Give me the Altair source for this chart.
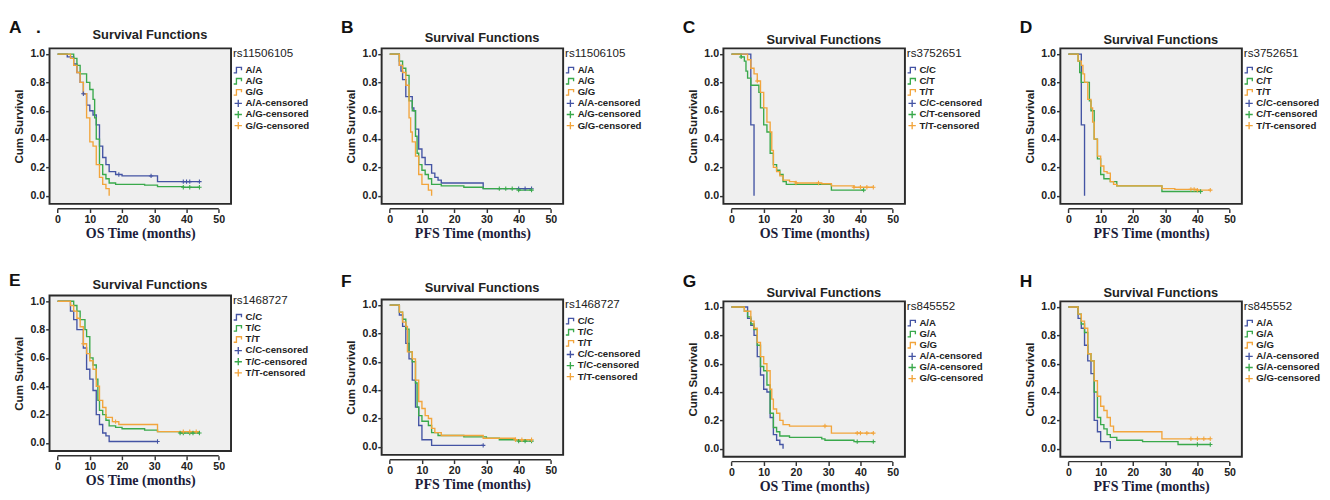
import altair as alt
import pandas as pd

# ---------------- data ----------------
# Panel A: OS, rs11506105
A_AA_T = [0, 3, 5, 6, 7, 8, 9, 10, 11, 12, 13, 14, 15, 16, 18, 20, 31, 44]
A_AA_S = [1.0, 0.98, 0.93, 0.87, 0.80, 0.72, 0.64, 0.60, 0.57, 0.50, 0.35, 0.27, 0.22, 0.17, 0.15, 0.14, 0.10, 0.10]
A_AA_C = [8, 19, 29, 39, 40, 41, 44]
A_AG_T = [0, 5, 6, 7, 9, 10, 11, 11.5, 12, 13, 14, 15, 16, 18, 27, 31, 39, 44]
A_AG_S = [1.0, 0.97, 0.92, 0.86, 0.80, 0.75, 0.68, 0.55, 0.40, 0.22, 0.15, 0.12, 0.09, 0.08, 0.075, 0.065, 0.06, 0.06]
A_AG_C = [39, 41, 44]
A_GG_T = [0, 4, 5, 6, 7, 8, 9, 10, 11, 12, 13, 14, 15, 16]
A_GG_S = [1.0, 0.97, 0.92, 0.87, 0.80, 0.72, 0.55, 0.38, 0.35, 0.22, 0.13, 0.08, 0.05, 0.0]
A_GG_C = []

# Panel B: PFS, rs11506105
B_AA_T = [0, 3, 3.5, 4, 5, 7, 7.5, 8, 9, 10, 11, 13, 14, 15, 16, 29, 44]
B_AA_S = [1.0, 0.92, 0.88, 0.82, 0.70, 0.62, 0.60, 0.47, 0.33, 0.27, 0.22, 0.16, 0.13, 0.11, 0.09, 0.05, 0.05]
B_AA_C = [40, 42, 44]
B_AG_T = [0, 3, 4, 5, 6, 7, 8, 8.5, 9, 10, 11, 12, 13, 16, 23, 29, 40, 44]
B_AG_S = [1.0, 0.95, 0.90, 0.85, 0.67, 0.60, 0.42, 0.30, 0.22, 0.18, 0.15, 0.12, 0.08, 0.07, 0.06, 0.05, 0.04, 0.04]
B_AG_C = [34, 36, 38, 40, 44]
B_GG_T = [0, 3, 4, 5, 6, 6.5, 7, 8, 9, 10, 12, 13]
B_GG_S = [1.0, 0.92, 0.87, 0.78, 0.55, 0.45, 0.38, 0.28, 0.15, 0.08, 0.04, 0.0]
B_GG_C = []

# Panel C: OS, rs3752651
C_CC_T = [0, 6, 7]
C_CC_S = [1.0, 0.5, 0.0]
C_CC_C = []
C_CT_T = [0, 3, 4, 4.5, 5, 6, 8.5, 9, 10, 11, 12, 13, 14, 15, 16, 17, 31, 41]
C_CT_S = [1.0, 0.98, 0.95, 0.88, 0.83, 0.78, 0.73, 0.62, 0.50, 0.45, 0.30, 0.22, 0.18, 0.15, 0.10, 0.08, 0.04, 0.04]
C_CT_C = [3, 41]
C_TT_T = [0, 5, 6, 7, 8, 9, 10, 11, 12, 12.5, 13, 14, 15, 16, 18, 20, 28, 31, 38, 44]
C_TT_S = [1.0, 0.96, 0.90, 0.86, 0.81, 0.73, 0.62, 0.52, 0.45, 0.32, 0.20, 0.17, 0.14, 0.11, 0.10, 0.09, 0.085, 0.07, 0.06, 0.06]
C_TT_C = [8, 20, 27, 38, 40, 42, 44]

# Panel D: PFS, rs3752651
D_CC_T = [0, 4, 5]
D_CC_S = [1.0, 0.5, 0.0]
D_CC_C = []
D_CT_T = [0, 3, 3.5, 4, 6.5, 7, 8, 9, 10, 11, 13, 15, 29, 41]
D_CT_S = [1.0, 0.95, 0.87, 0.80, 0.67, 0.60, 0.40, 0.26, 0.15, 0.12, 0.10, 0.07, 0.03, 0.03]
D_CT_C = [41]
D_TT_T = [0, 3, 4, 4.5, 5, 6, 7, 7.5, 8, 9, 10, 11, 12, 13, 14, 15, 29, 33, 40, 44]
D_TT_S = [1.0, 0.95, 0.92, 0.86, 0.80, 0.68, 0.62, 0.52, 0.40, 0.28, 0.21, 0.17, 0.16, 0.10, 0.08, 0.07, 0.05, 0.045, 0.04, 0.04]
D_TT_C = [38, 39, 40, 44]

# Panel E: OS, rs1468727
E_CC_T = [0, 4, 5, 6, 8, 9, 10, 11, 12, 13, 14, 15, 16, 31]
E_CC_S = [1.0, 0.93, 0.87, 0.80, 0.67, 0.52, 0.45, 0.37, 0.20, 0.13, 0.07, 0.05, 0.01, 0.01]
E_CC_C = [31]
E_TC_T = [0, 5, 6, 7, 8.5, 9, 10, 11, 12, 12.5, 13, 14, 15, 16, 18, 20, 27, 31, 38, 44]
E_TC_S = [1.0, 0.97, 0.93, 0.87, 0.80, 0.75, 0.60, 0.55, 0.45, 0.30, 0.23, 0.20, 0.16, 0.12, 0.11, 0.10, 0.09, 0.08, 0.07, 0.07]
E_TC_C = [38, 39, 41, 42, 44]
E_TT_T = [0, 4, 5, 6, 7, 8, 9, 10, 11, 12, 13, 14, 15, 17, 19, 31, 44]
E_TT_S = [1.0, 0.97, 0.93, 0.88, 0.82, 0.70, 0.63, 0.58, 0.52, 0.40, 0.30, 0.25, 0.18, 0.15, 0.13, 0.08, 0.08]
E_TT_C = [8, 18, 39, 41, 43]

# Panel F: PFS, rs1468727
F_CC_T = [0, 3, 4, 5, 6, 7, 8, 9, 10, 13, 29]
F_CC_S = [1.0, 0.93, 0.85, 0.73, 0.62, 0.47, 0.28, 0.15, 0.05, 0.01, 0.01]
F_CC_C = [29]
F_TC_T = [0, 3, 4, 5, 6, 7, 8, 8.5, 9, 10, 12, 13, 15, 23, 30, 34, 40, 44]
F_TC_S = [1.0, 0.95, 0.90, 0.83, 0.67, 0.60, 0.45, 0.28, 0.22, 0.18, 0.15, 0.10, 0.08, 0.07, 0.06, 0.05, 0.04, 0.04]
F_TC_C = [40, 42, 44]
F_TT_T = [0, 3, 4, 5, 5.5, 7, 8, 9, 10, 11, 12, 13, 14, 16, 29, 39, 44]
F_TT_S = [1.0, 0.95, 0.88, 0.85, 0.67, 0.62, 0.47, 0.32, 0.27, 0.22, 0.20, 0.13, 0.10, 0.08, 0.06, 0.05, 0.05]
F_TT_C = [39, 41, 44]

# Panel G: OS, rs845552
G_AA_T = [0, 5, 6, 7, 8, 9, 10, 11, 12, 13, 14, 15, 16]
G_AA_S = [1.0, 0.92, 0.87, 0.80, 0.65, 0.52, 0.42, 0.40, 0.22, 0.10, 0.06, 0.03, 0.0]
G_AA_C = []
G_GA_T = [0, 4, 5, 6, 7, 8, 9, 10, 11, 12, 13, 14, 15, 18, 28, 29, 38, 44]
G_GA_S = [1.0, 0.97, 0.93, 0.88, 0.84, 0.73, 0.58, 0.55, 0.45, 0.25, 0.15, 0.12, 0.09, 0.08, 0.07, 0.06, 0.05, 0.05]
G_GA_C = [39, 44]
G_GG_T = [0, 4, 6, 7, 8, 9, 10, 11, 12, 12.5, 13, 14, 15, 16, 18, 31, 44]
G_GG_S = [1.0, 0.97, 0.90, 0.85, 0.75, 0.65, 0.60, 0.55, 0.42, 0.35, 0.28, 0.25, 0.20, 0.17, 0.16, 0.11, 0.11]
G_GG_C = [29, 39, 40, 42, 44]

# Panel H: PFS, rs845552
H_AA_T = [0, 3, 4, 5, 6, 7, 8, 9, 10, 12, 13]
H_AA_S = [1.0, 0.92, 0.85, 0.73, 0.62, 0.53, 0.20, 0.12, 0.05, 0.05, 0.0]
H_AA_C = []
H_GA_T = [0, 3, 4, 5, 6, 7, 8, 9, 10, 11, 12, 13, 15, 23, 34, 44]
H_GA_S = [1.0, 0.95, 0.88, 0.82, 0.67, 0.62, 0.40, 0.22, 0.17, 0.14, 0.10, 0.08, 0.06, 0.05, 0.03, 0.03]
H_GA_C = [40, 44]
H_GG_T = [0, 3, 4, 5, 6, 7, 8, 9, 10, 11, 12, 13, 14, 29, 44]
H_GG_S = [1.0, 0.95, 0.90, 0.85, 0.67, 0.62, 0.48, 0.37, 0.30, 0.27, 0.22, 0.16, 0.12, 0.07, 0.07]
H_GG_C = [38, 40, 42, 44]

X_TICKS = [0, 10, 20, 30, 40, 50]
Y_TICKS = [0.0, 0.2, 0.4, 0.6, 0.8, 1.0]

# ---------------- styling ----------------
COLORS = ["#4454a4", "#39a94b", "#f2a53c"]
STEP = "M-1,0.6H-0.4V-0.6H0.7V0"
CROSS = "M-0.8,0H0.8M0,-0.8V0.8"
W, H = 188, 161
SANS = "Liberation Sans"
SERIF = "Liberation Serif"


def surv_at(T, S, t):
    val = S[0]
    for ti, si in zip(T, S):
        if ti <= t:
            val = si
    return val


def panel(letter, snp, labels, series, xtitle, letter_y, title_y, top):
    rows, crow = [], []
    for lab, (T, S, C) in zip(labels, series):
        for t, s in zip(T, S):
            rows.append({"t": t, "s": s, "g": lab})
        for c in C:
            crow.append({"t": c, "s": surv_at(T, S, c), "k": lab + "-censored"})
    keys = labels + [l + "-censored" for l in labels]
    xs = alt.Scale(domain=[-2.5, 53.8], nice=False, zero=False)
    ys = alt.Scale(domain=[-0.057, 1.04], nice=False, zero=False)
    xaxis = alt.Axis(values=X_TICKS, format="d", offset=5, domain=False, grid=False,
                     tickSize=4, tickWidth=1.5, tickColor="#333", labelOverlap=False,
                     labelFont=SANS, labelFontWeight="bold", labelFontSize=11, labelColor="#222",
                     labelPadding=1,
                     title=xtitle, titleFont=SERIF, titleFontSize=14.5, titleFontWeight="bold",
                     titleColor="#1c1c3a", titlePadding=3)
    yaxis = alt.Axis(values=Y_TICKS, format=".1f", domain=False, grid=False,
                     tickSize=4, tickWidth=1.5, tickColor="#333", labelOverlap=False,
                     labelFont=SANS, labelFontWeight="bold", labelFontSize=11, labelColor="#222",
                     labelPadding=1,
                     title="Cum Survival", titleFont=SANS, titleFontSize=12, titleFontWeight="bold",
                     titleColor="#222", titlePadding=5)
    lines = alt.Chart(pd.DataFrame(rows)).mark_line(
        interpolate="step-after", strokeWidth=1.4
    ).encode(
        x=alt.X("t:Q", scale=xs, axis=xaxis),
        y=alt.Y("s:Q", scale=ys, axis=yaxis),
        color=alt.Color("g:N", scale=alt.Scale(domain=labels, range=COLORS), legend=None),
        detail="g:N",
    )
    leg = alt.Legend(title=snp, orient="right", offset=2, padding=0,
                     titleFont=SANS, titleFontSize=12, titleFontWeight="normal", titleColor="#222",
                     titlePadding=5,
                     labelFont=SANS, labelFontSize=10, labelFontWeight="bold", labelColor="#222",
                     labelOffset=2, symbolSize=90, symbolStrokeWidth=1.4, rowPadding=0.5,
                     clipHeight=11)
    cens = alt.Chart(pd.DataFrame(crow, columns=["t", "s", "k"])).mark_point(
        filled=False, strokeWidth=1.1, size=32, opacity=1
    ).encode(
        x=alt.X("t:Q", scale=xs, axis=xaxis),
        y=alt.Y("s:Q", scale=ys, axis=yaxis),
        color=alt.Color("k:N", scale=alt.Scale(domain=keys, range=COLORS + COLORS), legend=leg),
        shape=alt.Shape("k:N", scale=alt.Scale(domain=keys, range=[STEP] * 3 + [CROSS] * 3), legend=leg),
    )
    one = pd.DataFrame({"a": [0]})
    xline = alt.Chart(one).mark_rule(strokeWidth=1.5, color="#333").encode(
        x=alt.X(datum=0, type="quantitative", scale=xs, axis=xaxis),
        x2=alt.X2(datum=50),
        y=alt.value(H + 5),
    )
    # invisible spacer that fixes how far the panel reaches above its plot area
    spacer = alt.Chart(one).mark_rule(strokeOpacity=0, strokeWidth=0.1).encode(
        x=alt.value(0), y=alt.value(-top), y2=alt.value(-top + 1)
    )
    lab = alt.Chart(one).mark_text(
        align="left", baseline="alphabetic", font=SANS, fontSize=18, fontWeight="bold", color="#111"
    ).encode(x=alt.value(-42), y=alt.value(letter_y), text=alt.value(letter))
    ttl = alt.Chart(one).mark_text(
        align="center", baseline="alphabetic", font=SANS, fontSize=13.3, fontWeight="bold", color="#222"
    ).encode(x=alt.value(W / 2 + 10), y=alt.value(title_y), text=alt.value("Survival Functions"))
    return alt.layer(lines, cens, xline, spacer, lab, ttl).resolve_scale(
        color="independent", shape="independent"
    ).properties(width=W, height=H)


G3a = ["A/A", "A/G", "G/G"]
G3c = ["C/C", "C/T", "T/T"]
G3e = ["C/C", "T/C", "T/T"]
G3g = ["A/A", "G/A", "G/G"]

pA = panel("A\u00a0\u00a0\u00a0.", "rs11506105", G3a, [(A_AA_T, A_AA_S, A_AA_C), (A_AG_T, A_AG_S, A_AG_C), (A_GG_T, A_GG_S, A_GG_C)], "OS Time (months)", -16, -10, 32)
pB = panel("B", "rs11506105", G3a, [(B_AA_T, B_AA_S, B_AA_C), (B_AG_T, B_AG_S, B_AG_C), (B_GG_T, B_GG_S, B_GG_C)], "PFS Time (months)", -16, -7, 32)
pC = panel("C", "rs3752651", G3c, [(C_CC_T, C_CC_S, C_CC_C), (C_CT_T, C_CT_S, C_CT_C), (C_TT_T, C_TT_S, C_TT_C)], "OS Time (months)", -16, -5, 32)
pD = panel("D", "rs3752651", G3c, [(D_CC_T, D_CC_S, D_CC_C), (D_CT_T, D_CT_S, D_CT_C), (D_TT_T, D_TT_S, D_TT_C)], "PFS Time (months)", -16, -5, 32)
pE = panel("E", "rs1468727", G3e, [(E_CC_T, E_CC_S, E_CC_C), (E_TC_T, E_TC_S, E_TC_C), (E_TT_T, E_TT_S, E_TT_C)], "OS Time (months)", -10, -7, 35)
pF = panel("F", "rs1468727", G3e, [(F_CC_T, F_CC_S, F_CC_C), (F_TC_T, F_TC_S, F_TC_C), (F_TT_T, F_TT_S, F_TT_C)], "PFS Time (months)", -13, -8, 39)
pG = panel("G", "rs845552", G3g, [(G_AA_T, G_AA_S, G_AA_C), (G_GA_T, G_GA_S, G_GA_C), (G_GG_T, G_GG_S, G_GG_C)], "OS Time (months)", -15, -5, 41)
pH = panel("H", "rs845552", G3g, [(H_AA_T, H_AA_S, H_AA_C), (H_GA_T, H_GA_S, H_GA_C), (H_GG_T, H_GG_S, H_GG_C)], "PFS Time (months)", -15, -5, 41)

IND = dict(color="independent", shape="independent")


def col(p_top, p_bottom):
    return alt.vconcat(p_top, p_bottom, spacing=20).resolve_scale(**IND)


left = alt.hconcat(col(pA, pE), col(pB, pF), spacing=30).resolve_scale(**IND)
right = alt.hconcat(col(pC, pG), col(pD, pH), spacing=35).resolve_scale(**IND)

chart = alt.hconcat(left, right, spacing=40).resolve_scale(
    **IND
).properties(
    padding={"left": 0, "top": 0, "right": 0, "bottom": 0}
).configure(
    background="white"
).configure_view(
    fill="#efefef", stroke="#2a2a2a", strokeWidth=2
)

chart.save("out.html", embed_options={"renderer": "svg", "actions": False})
